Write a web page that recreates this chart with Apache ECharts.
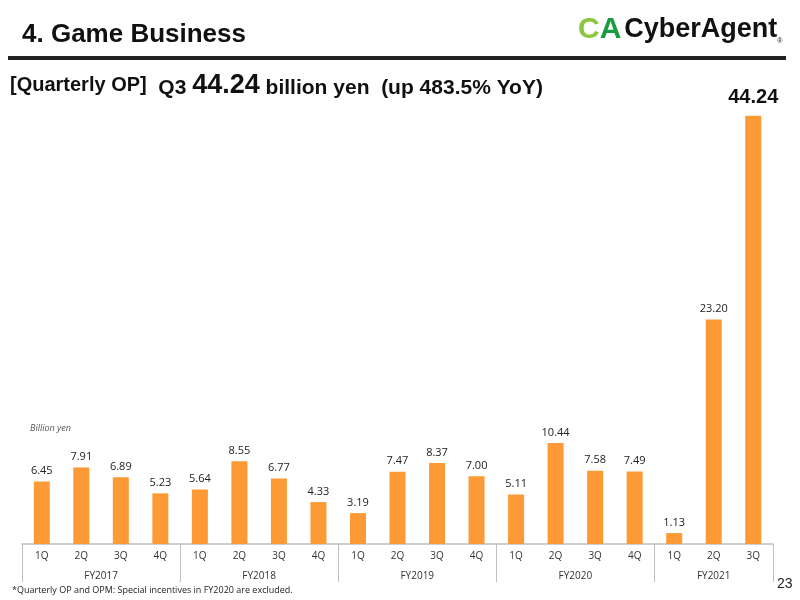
<!DOCTYPE html>
<html><head><meta charset="utf-8">
<script src="https://cdn.jsdelivr.net/npm/echarts@6/dist/echarts.min.js"></script>
<style>html,body{margin:0;padding:0;background:#fff}#c{width:800px;height:600px}</style>
</head><body><div id="c"></div>
<script>
const quarters = ['1Q','2Q','3Q','4Q','1Q','2Q','3Q','4Q','1Q','2Q','3Q','4Q','1Q','2Q','3Q','4Q','1Q','2Q','3Q'];
const fiscalYears = ['FY2017','FY2018','FY2019','FY2020','FY2021'];
const quartersPerYear = [4,4,4,4,3];
const opValues = [6.45,7.91,6.89,5.23,5.64,8.55,6.77,4.33,3.19,7.47,8.37,7.00,5.11,10.44,7.58,7.49,1.13,23.20,44.24];

// Build half-step FY axis: 2*N+1 boundary points
const nHalf = quarters.length * 2 + 1;
const fyAxisData = new Array(nHalf).fill('');
const fyTickIdx = new Set([0]);
const fyLabelIdx = new Set();
let acc = 0;
fiscalYears.forEach((fy, i) => {
  const mid = acc * 2 + quartersPerYear[i];
  fyAxisData[mid] = fy; fyLabelIdx.add(mid);
  acc += quartersPerYear[i];
  fyTickIdx.add(acc * 2);
});

const chart = echarts.init(document.getElementById('c'));
const lastIdx = opValues.length - 1;
chart.setOption({
  animation: false,
  grid: {left: 22, right: 27, top: 60, bottom: 56},
  xAxis: [
    {type: 'category', data: quarters, position: 'bottom',
     axisLine: {lineStyle: {color: '#bfbfbf', width: 1.5}},
     axisTick: {length: 18, lineStyle: {color: '#bfbfbf', width: 1}},
     axisLabel: {color: '#333', fontSize: 10, margin: 7, fontFamily: 'Open Sans', interval: 0}},
    {type: 'category', data: fyAxisData, boundaryGap: false, position: 'bottom',
     axisLine: {show: false},
     axisTick: {length: 38, interval: (i) => fyTickIdx.has(i), lineStyle: {color: '#bfbfbf', width: 1}},
     axisLabel: {color: '#333', fontSize: 10, margin: 27, fontFamily: 'Open Sans', interval: (i) => fyLabelIdx.has(i)}}
  ],
  yAxis: {type: 'value', min: 0, max: 50, show: false, splitLine: {show: false}},
  series: [{
    type: 'bar', xAxisIndex: 0, barWidth: 16,
    itemStyle: {color: '#fd9a35'},
    data: opValues.map((v, i) => i === lastIdx ? {value: v, label: {fontSize: 20, fontWeight: 'bold', distance: 8, color: '#111', fontFamily: 'Liberation Sans'}} : v),
    label: {show: true, position: 'top', distance: 5, color: '#222', fontSize: 11, fontFamily: 'Open Sans',
      formatter: (p) => p.value.toFixed(2)}
  }],
  graphic: [
    {type: 'text', left: 22, top: 22, style: {text: '4. Game Business', font: 'bold 26px "Liberation Sans"', fill: '#111'}},
    {type: 'rect', shape: {x: 8, y: 56, width: 778, height: 4}, style: {fill: '#222'}},
    {type: 'text', left: 578, top: 15, style: {
      text: '{c|C}{a|A}{t|CyberAgent}{r|®}',
      rich: {
        c: {font: 'bold 30px "Liberation Sans"', fill: '#8cc63f'},
        a: {font: 'bold 30px "Liberation Sans"', fill: '#1a9d3f'},
        t: {font: 'bold 27px "Liberation Sans"', fill: '#111', padding: [0,0,0,3]},
        r: {font: '7px "Liberation Sans"', fill: '#111', verticalAlign: 'bottom'}
      }}},
    {type: 'text', left: 10, top: 72, style: {
      text: '{a|[Quarterly OP]}{b|  Q3 }{c|44.24}{b| billion yen  (up 483.5% YoY)}',
      rich: {
        a: {font: 'bold 20px "Liberation Sans"', fill: '#111'},
        b: {font: 'bold 21px "Liberation Sans"', fill: '#111', verticalAlign: 'bottom'},
        c: {font: 'bold 27px "Liberation Sans"', fill: '#111', verticalAlign: 'bottom'}
      }}},
    {type: 'text', left: 30, top: 424, style: {text: 'Billion yen', font: 'italic 9px "Open Sans"', fill: '#555'}},
    {type: 'text', left: 12, top: 586, style: {text: '*Quarterly OP and OPM: Special incentives in FY2020 are excluded.', font: '9px "Open Sans"', fill: '#222'}},
    {type: 'text', left: 777, top: 577, style: {text: '23', font: '14px "Liberation Sans"', fill: '#222'}}
  ]
});
</script></body></html>
